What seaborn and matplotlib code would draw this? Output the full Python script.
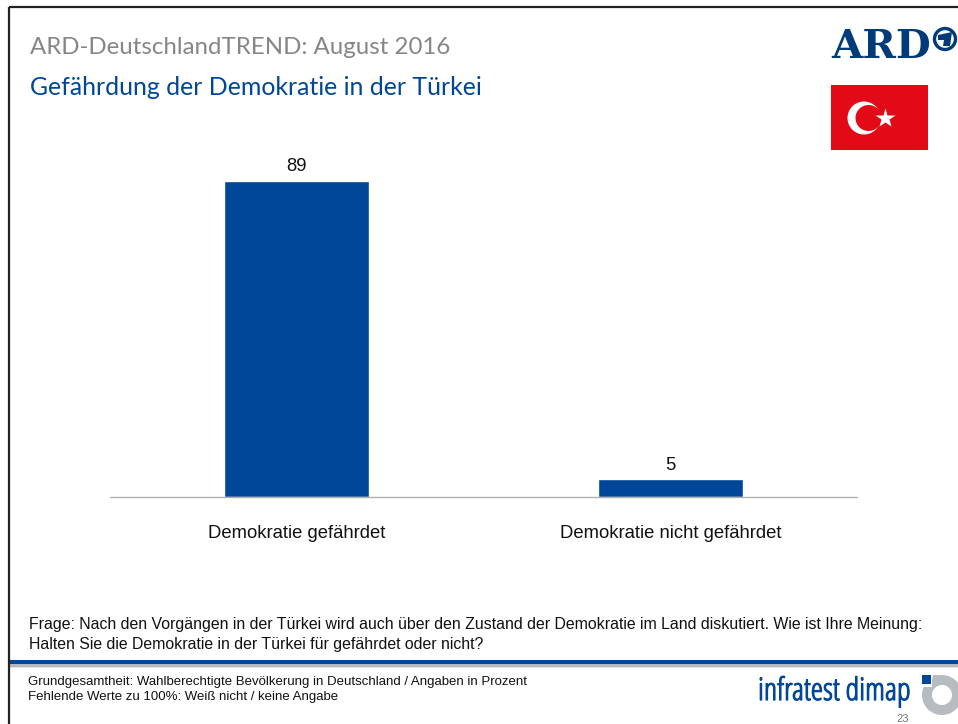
import matplotlib
matplotlib.use("Agg")
import matplotlib.pyplot as plt
import matplotlib.patheffects as pe
import pandas as pd
import seaborn as sns
from matplotlib.patches import Circle, Polygon, Rectangle, Wedge

categories = ["Demokratie gefährdet", "Demokratie nicht gefährdet"]
values = [89, 5]

title_top = "ARD-DeutschlandTREND: August 2016"
title_sub = "Gefährdung der Demokratie in der Türkei"
question = ["Frage: Nach den Vorgängen in der Türkei wird auch über den Zustand der Demokratie im Land diskutiert. Wie ist Ihre Meinung:",
            "Halten Sie die Demokratie in der Türkei für gefährdet oder nicht?"]
footnotes = ["Grundgesamtheit: Wahlberechtigte Bevölkerung in Deutschland / Angaben in Prozent",
             "Fehlende Werte zu 100%: Weiß nicht / keine Angabe"]
page_number = "23"

BLUE = "#004699"
GREY = "#b7bcc0"
W, H = 958, 724

sns.set_theme(style="white")
plt.rcParams["font.family"] = ["Liberation Sans", "DejaVu Sans"]

fig = plt.figure(figsize=(W / 100, H / 100), dpi=100, facecolor="white")

# Page furniture is laid out on a full-slide axes in pixel units
page = fig.add_axes([0, 0, 1, 1], zorder=0)
page.set_xlim(0, W)
page.set_ylim(H, 0)
page.axis("off")

page.plot([9, 9], [7, H], color="#222222", lw=1.6, solid_capstyle="butt")
page.plot([9, W], [7, 7], color="#222222", lw=1.6, solid_capstyle="butt")

page.text(30, 47.5, title_top, color="#868686", fontsize=17.3, family="Lato",
          va="center", ha="left")
page.text(30, 87.5, title_sub, color=BLUE, fontsize=17.9, family="Lato",
          va="center", ha="left")

# ARD wordmark with the encircled 1
page.text(831, 47, "ARD", color="#003a78", fontsize=29, family="DejaVu Serif",
          weight="bold", va="center", ha="left")
page.add_patch(Circle((945, 39), 10.5, fc="white", ec="#003a78", lw=2.4))
page.add_patch(Polygon([[938, 35], [952, 32], [950, 46], [943, 46], [944, 40], [938, 40]],
                       fc="#003a78", ec="none"))

# Turkish flag
page.add_patch(Rectangle((831, 85), 97, 65, fc="#e30a17", ec="none"))
page.add_patch(Circle((864, 118), 16.5, fc="white", ec="none"))
page.add_patch(Circle((868.5, 118), 13, fc="#e30a17", ec="none"))
page.plot([885], [118], marker="*", ms=15, mfc="white", mec="none")

# Footer rule
page.add_patch(Rectangle((9, 660), W - 9, 4, fc=BLUE, ec="none"))
page.add_patch(Rectangle((9, 664), W - 9, 3, fc="#b4b9bd", ec="none"))
page.add_patch(Rectangle((9, 667), W - 9, 1, fc="#e3e5e6", ec="none"))

page.text(29, 625, question[0], fontsize=11.41, color="#111111", va="center", ha="left")
page.text(29, 645, question[1], fontsize=11.41, color="#111111", va="center", ha="left")
page.text(28, 682, footnotes[0], fontsize=9.55, color="#111111", va="center", ha="left")
page.text(28, 697, footnotes[1], fontsize=9.55, color="#111111", va="center", ha="left")

# infratest dimap logo
logo = page.text(758, 692, "infratest dimap", color=BLUE, fontsize=22.5, family="Open Sans",
                 va="center", ha="left", fontstretch="condensed")
logo.set_path_effects([pe.withStroke(linewidth=0.8, foreground=BLUE)])
page.add_patch(Wedge((942, 695), 20, 0, 360, width=10, fc=GREY, ec="none"))
page.add_patch(Rectangle((920, 673), 12.5, 14, fc="white", ec="none"))
page.add_patch(Rectangle((933, 675), 9, 9, fc=GREY, ec="none"))
page.add_patch(Rectangle((922, 675), 9, 8.5, fc=BLUE, ec="none"))
page.text(903, 719, page_number, fontsize=8, color="#777777", va="center", ha="center")

# Bar chart
ax = fig.add_axes([110 / W, 1 - 497 / H, 747 / W, 355 / H], zorder=1)
ax.patch.set_alpha(0)
df = pd.DataFrame({"Kategorie": categories, "Anteil": values})
sns.barplot(data=df, x="Kategorie", y="Anteil", color=BLUE, saturation=1,
            width=0.388, ax=ax)
ax.set_xlim(-0.5, 1.5)
ax.set_ylim(0, 100)
ax.set_xlabel("")
ax.set_ylabel("")
ax.set_yticks([])
ax.tick_params(axis="x", length=0, pad=20, labelsize=13.3, labelcolor="#111111")
sns.despine(ax=ax, left=True)
ax.spines["bottom"].set_color("#b0b0b0")
ax.spines["bottom"].set_linewidth(1)
ax.bar_label(ax.containers[0], labels=[str(v) for v in values], padding=4,
             fontsize=13.3, color="#111111")

fig.savefig("out.png", dpi=100)
